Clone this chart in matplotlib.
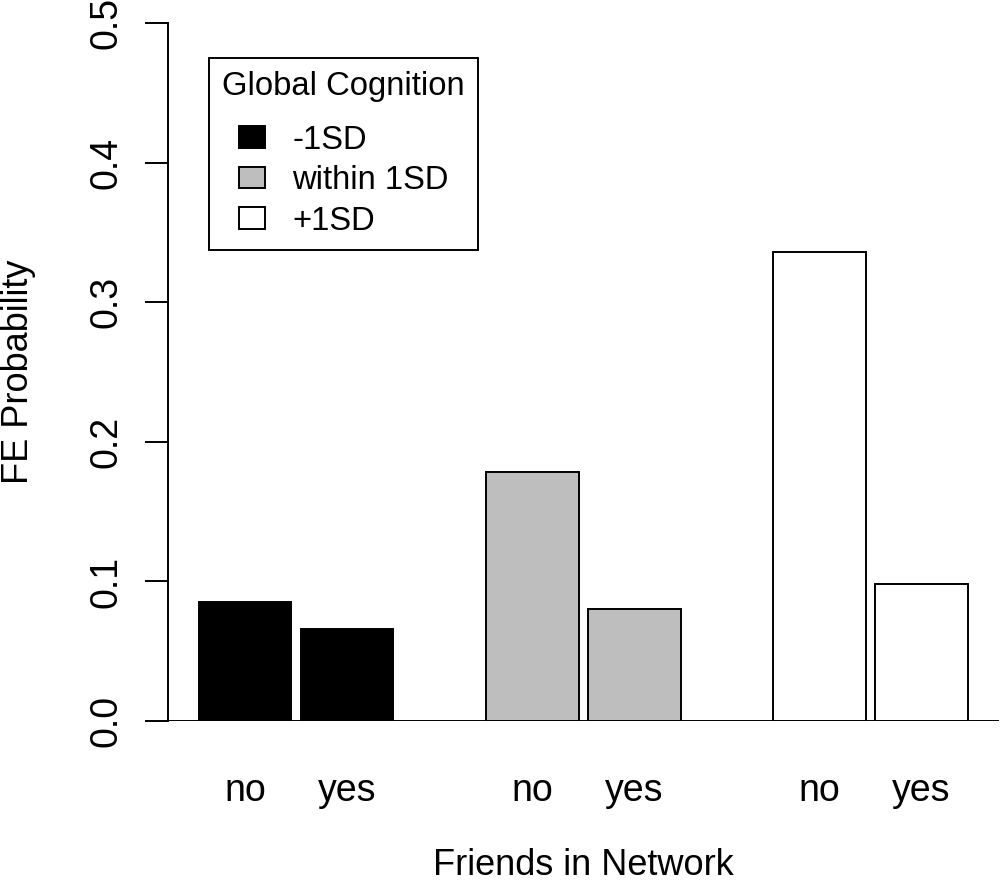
import numpy as np
import matplotlib
matplotlib.use('Agg')
import matplotlib.pyplot as plt
from matplotlib.patches import Patch

plt.rcParams['font.family'] = ['Liberation Sans', 'DejaVu Sans']

# data
GROUPS = ['-1SD', 'within 1SD', '+1SD']
FRIENDS = ['no', 'yes']
FE_NO = [0.0855, 0.1785, 0.3362]
FE_YES = [0.0657, 0.0803, 0.0982]
Y_TICKS = [0.0, 0.1, 0.2, 0.3, 0.4, 0.5]

GROUP_COLORS = ['black', '#BEBEBE', 'white']
LW = 1.4

# R barplot(beside=TRUE) style layout: width 1, space 0.1 within, 1 between
BAR_W = 1.0
SPACE_IN = 0.1
SPACE_GRP = 1.0

fig = plt.figure(figsize=(10, 8.91), dpi=100)
# plot region in pixels: x 168..998.5, y 23.3..721 (of 1000x891)
ax = fig.add_axes([0.168, (891 - 721) / 891, 0.8305, (721 - 23.3) / 891])

values = np.column_stack([FE_NO, FE_YES])
lefts = []
for g in range(len(GROUPS)):
    for j in range(len(FRIENDS)):
        left = SPACE_GRP + g * (2 * BAR_W + SPACE_IN + SPACE_GRP) + j * (BAR_W + SPACE_IN)
        lefts.append(left)
        ax.bar(left, values[g, j], width=BAR_W, align='edge',
               color=GROUP_COLORS[g], edgecolor='black', linewidth=LW, zorder=2)
lefts = np.array(lefts)
centers = lefts + BAR_W / 2

# R extends the x range by 4%
x_lo, x_hi = lefts.min(), lefts.max() + BAR_W
ext = (x_hi - x_lo) * 0.04
ax.set_xlim(x_lo - ext, x_hi + ext)
ax.set_ylim(0, 0.5)

ax.axhline(0, color='black', linewidth=LW, zorder=3)

for s in ['top', 'right', 'bottom']:
    ax.spines[s].set_visible(False)
ax.spines['left'].set_linewidth(LW)

ax.set_yticks(Y_TICKS)
ax.set_yticklabels([f'{t:.1f}' for t in Y_TICKS], rotation=90, va='center')
ax.tick_params(axis='y', length=16.5, width=LW, pad=15, labelsize=27)

ax.set_xticks(centers)
ax.set_xticklabels(FRIENDS * len(GROUPS))
ax.tick_params(axis='x', length=0, pad=37.5, labelsize=27)

fig.text(0.583, (891 - 875) / 891, 'Friends in Network', fontsize=26,
         ha='center', va='baseline')
fig.text(28 / 1000, (891 - 372) / 891, 'FE Probability', fontsize=26,
         rotation=90, rotation_mode='anchor', ha='center', va='baseline')

handles = [Patch(facecolor=c, edgecolor='black', linewidth=LW) for c in GROUP_COLORS]
leg = ax.legend(handles, GROUPS, title='Global Cognition',
                loc='upper left', bbox_to_anchor=(0.2093, 1 - 58.3 / 891),
                bbox_transform=fig.transFigure, borderaxespad=0,
                fontsize=23.6, title_fontsize=23.6, fancybox=False,
                framealpha=1, edgecolor='black', borderpad=0.4,
                handlelength=0.79, handleheight=0.64, handletextpad=0.83,
                labelspacing=0.29)
leg.get_frame().set_linewidth(LW)
leg._legend_box.sep = 16  # wider gap under the title, as in R

fig.savefig('out.png', dpi=100)
